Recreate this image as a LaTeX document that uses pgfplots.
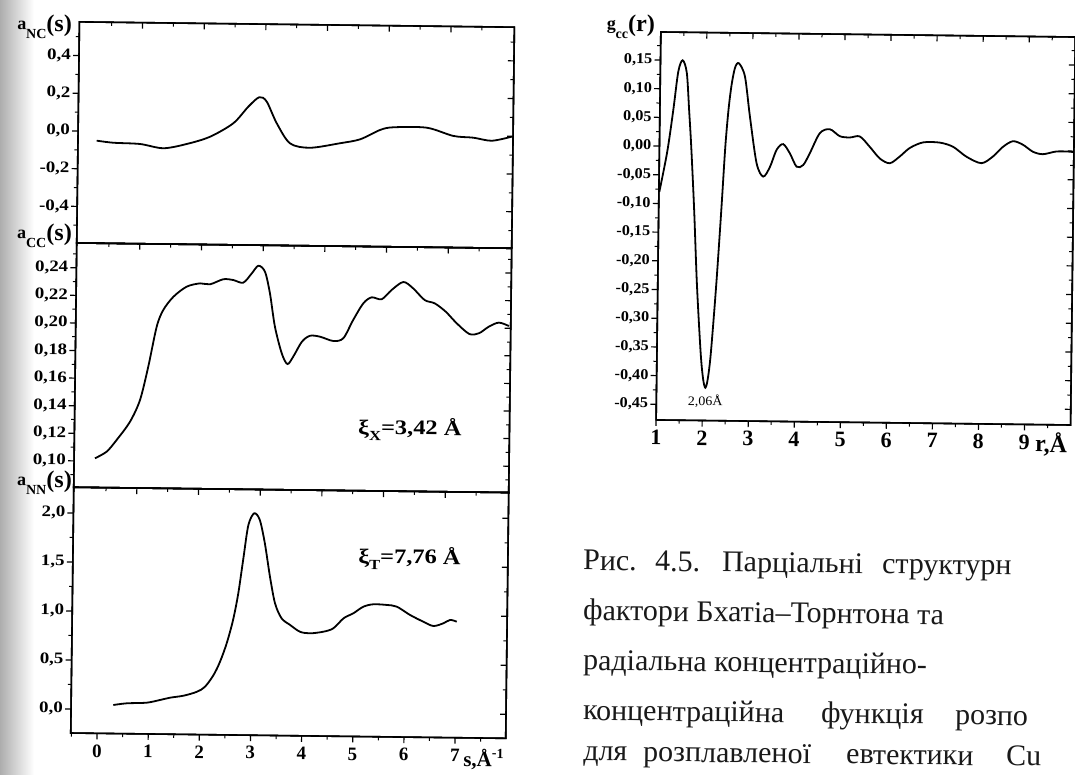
\documentclass[border=0pt]{standalone}
\usepackage{fontspec}
\usepackage{pgfplots}
\pgfplotsset{compat=1.18}
\setmainfont{Liberation Serif}
\newfontfamily\wide[FakeStretch=1.18]{Liberation Serif}
\newfontfamily\semiwide[FakeStretch=1.08]{Liberation Serif}

% axis label of the form  a_{NC}(s)
\newcommand\qlabel[3]{%
  \raisebox{2pt}{\bfseries\fontsize{18}{18}\selectfont #1}%
  \raisebox{-7pt}{\bfseries\fontsize{14}{14}\selectfont #2}%
  {\bfseries\fontsize{24}{24}\selectfont(#3)}}

\pgfplotsset{
  panel/.style={scale only axis, anchor=south west,
    axis line style={line width=1.6pt},
    major tick length=6pt, minor tick length=3.5pt,
    every major tick/.append style={line width=1.2pt, black},
    every minor tick/.append style={line width=1pt, black}},
  leftpanel/.style={panel, width=435pt, xmin=-0.514, xmax=7.99,
    yticklabel style={font=\wide\bfseries\fontsize{16}{16}\selectfont, inner sep=2pt},
    xticklabel style={font=\bfseries\fontsize{19}{19}\selectfont, inner sep=2pt, yshift=-3pt}},
  rightpanel/.style={panel, width=414.5pt, height=388pt, xmin=1, xmax=10,
    ymin=-0.4772, ymax=0.1988,
    xtick={1,2,3,4,5,6,7,8,9}, minor xtick={1.5,2.5,3.5,4.5,5.5,6.5,7.5,8.5,9.5},
    ytick={-0.45,-0.40,-0.35,-0.30,-0.25,-0.20,-0.15,-0.10,-0.05,0,0.05,0.10,0.15},
    minor ytick={-0.425,-0.375,-0.325,-0.275,-0.225,-0.175,-0.125,-0.075,-0.025,0.025,0.075,0.125,0.175},
    yticklabel style={font=\semiwide\bfseries\fontsize{15}{15}\selectfont, inner sep=2pt},
    xticklabel style={font=\bfseries\fontsize{22}{22}\selectfont, inner sep=2pt, yshift=-2pt}},
  topticks/.style={xtick={0.72,1.926,3.132,4.338,5.544,6.75},
    minor xtick={0.117,1.323,2.529,3.735,4.941,6.147,7.353}},
  front/.style={tick align=outside, xtick pos=left, ytick pos=left},
  back/.style={tick align=inside, xtick pos=right, ytick pos=right,
    xticklabels={}, yticklabels={}},
  curve/.style={black, line width=1.8pt, smooth, tension=0.5, mark=none},
}

\begin{document}
\begin{tikzpicture}[x=1pt,y=1pt]
\path[use as bounding box] (0,0) rectangle (1075,774);
\shade[left color=black!32, right color=white] (0,0) rectangle (34,774);

\begin{scope}[transform canvas={rotate around={-0.7:(537.5,387)}}]

% ---------- a_NC(s) ----------
\pgfplotsset{p1/.style={leftpanel, at={(75pt,525.4pt)}, height=221.1pt,
  ymin=-0.594, ymax=0.5788,
  ytick={-0.4,-0.2,0,0.2,0.4}, minor ytick={-0.5,-0.3,-0.1,0.1,0.3,0.5}}}
\begin{axis}[p1, front, xtick=\empty,
  yticklabels={{-0,4},{-0,2},{0,0},{0,2},{0,4}}]
\addplot[curve] coordinates {
(-0.149,-0.050) (0.177,-0.060) (0.699,-0.065) (1.155,-0.086) (1.612,-0.062)
(2.066,-0.022) (2.518,0.051) (2.808,0.140) (3.021,0.191) (3.166,0.168)
(3.367,0.054) (3.632,-0.052) (4.024,-0.074) (4.610,-0.048) (5.000,-0.026)
(5.389,0.025) (5.648,0.040) (6.301,0.040) (6.823,-0.002) (7.215,-0.010)
(7.575,-0.025) (7.965,-0.002)};
\end{axis}
\begin{axis}[p1, back, topticks]\end{axis}

% ---------- a_CC(s) ----------
\pgfplotsset{p2/.style={leftpanel, at={(75pt,281.1pt)}, height=244.3pt,
  ymin=0.0809, ymax=0.258,
  ytick={0.10,0.12,0.14,0.16,0.18,0.20,0.22,0.24},
  minor ytick={0.09,0.11,0.13,0.15,0.17,0.19,0.21,0.23,0.25}}}
\begin{axis}[p2, front, xtick=\empty,
  yticklabels={{0,10},{0,12},{0,14},{0,16},{0,18},{0,20},{0,22},{0,24}}]
\addplot[curve] coordinates {
(-0.106,0.1021) (0.121,0.1070) (0.314,0.1156) (0.570,0.1289) (0.760,0.1447)
(0.914,0.1690) (1.069,0.1980) (1.194,0.2102) (1.390,0.2199) (1.646,0.2273)
(1.907,0.2298) (2.101,0.2292) (2.360,0.2330) (2.556,0.2325) (2.751,0.2307)
(2.917,0.2376) (3.043,0.2431) (3.173,0.2388) (3.275,0.2232) (3.380,0.1991)
(3.520,0.1798) (3.633,0.1721) (3.745,0.1775) (3.911,0.1884) (4.069,0.1928)
(4.265,0.1922) (4.525,0.1892) (4.720,0.1913) (4.908,0.2046) (5.103,0.2168)
(5.265,0.2212) (5.461,0.2199) (5.653,0.2267) (5.880,0.2326) (6.072,0.2281)
(6.301,0.2197) (6.498,0.2174) (6.714,0.2115) (6.934,0.2031) (7.182,0.1955)
(7.370,0.1961) (7.563,0.2010) (7.758,0.2040) (7.954,0.2016)};
\end{axis}
\begin{axis}[p2, back, topticks]\end{axis}

% ---------- a_NN(s) ----------
\pgfplotsset{p3/.style={leftpanel, at={(75pt,35.3pt)}, height=245.8pt,
  ymin=-0.245, ymax=2.263,
  ytick={0,0.5,1,1.5,2}, minor ytick={0.25,0.75,1.25,1.75}}}
\begin{axis}[p3, front,
  xtick={0,1,2,3,4,5,6,7}, xticklabels={0,1,2,3,4,5,6,7},
  minor xtick={-0.5,0.5,1.5,2.5,3.5,4.5,5.5,6.5,7.5},
  yticklabels={{0,0},{0,5},{1,0},{1,5},{2,0}}]
\addplot[curve] coordinates {
(0.311,0.046) (0.572,0.065) (0.963,0.074) (1.222,0.103) (1.421,0.128)
(1.683,0.150) (1.944,0.192) (2.099,0.244) (2.264,0.365) (2.387,0.501)
(2.513,0.690) (2.632,0.929) (2.728,1.202) (2.823,1.576) (2.909,1.900)
(3.021,2.020) (3.131,1.952) (3.235,1.715) (3.343,1.375) (3.448,1.104)
(3.579,0.952) (3.747,0.885) (3.942,0.817) (4.138,0.802) (4.399,0.820)
(4.594,0.856) (4.793,0.960) (4.982,1.012) (5.175,1.080) (5.370,1.106)
(5.633,1.101) (5.829,1.085) (6.089,1.002) (6.349,0.935) (6.549,0.892)
(6.744,0.921) (6.874,0.956) (7.005,0.939)};
\end{axis}
\begin{axis}[p3, back, topticks]\end{axis}

% ---------- g_cc(r) ----------
\begin{axis}[rightpanel, at={(656.5pt,355.5pt)}, front,
  xticklabels={1,2,3,4,5,6,7,8,9},
  yticklabels={{-0,45},{-0,40},{-0,35},{-0,30},{-0,25},{-0,20},{-0,15},{-0,10},{-0,05},{0,00},{0,05},{0,10},{0,15}}]
\addplot[curve] coordinates {
(1.009,-0.080) (1.17,-0.010) (1.291,0.063) (1.389,0.130) (1.482,0.150)
(1.575,0.128) (1.635,0.063) (1.69,0.000) (1.77,-0.110) (1.85,-0.240)
(1.95,-0.360) (2.01,-0.405) (2.06,-0.420) (2.11,-0.405) (2.17,-0.360)
(2.27,-0.240) (2.36,-0.110) (2.43,0.000) (2.49,0.065) (2.55,0.108)
(2.62,0.138) (2.702,0.146) (2.838,0.123) (2.957,0.053) (3.114,-0.028)
(3.261,-0.051) (3.404,-0.034) (3.545,-0.004) (3.686,0.006) (3.834,-0.010)
(3.983,-0.033) (4.126,-0.030) (4.268,-0.009) (4.480,0.026) (4.695,0.033)
(4.914,0.021) (5.131,0.019) (5.348,0.021) (5.568,0.003) (5.788,-0.017)
(6.006,-0.025) (6.221,-0.013) (6.436,0.002) (6.723,0.012) (7.085,0.012)
(7.375,0.005) (7.668,-0.012) (7.995,-0.023) (8.245,-0.011) (8.459,0.006)
(8.675,0.016) (8.893,0.010) (9.111,-0.002) (9.329,-0.006) (9.619,-0.001)
(9.907,-0.001) (10.0,-0.002)};
\node[anchor=north, inner sep=0, font=\semiwide\fontsize{13}{13}\selectfont]
  at (axis cs:2.06,-0.432) {2,06Å};
\end{axis}
\begin{axis}[rightpanel, at={(656.5pt,355.5pt)}, back]\end{axis}

% ---------- axis titles and notes ----------
\node[anchor=base east, inner sep=0] at (67.7,736.3) {\qlabel{a}{NC}{s}};
\node[anchor=base east, inner sep=0] at (70.2,527.3) {\qlabel{a}{CC}{s}};
\node[anchor=base east, inner sep=0] at (73.2,280.3) {\qlabel{a}{NN}{s}};
\node[anchor=base east, inner sep=0] at (650.7,743.4) {\qlabel{g}{cc}{r}};

\node[anchor=base west, inner sep=0, font=\wide\bfseries\fontsize{20.7}{20.7}\selectfont]
  at (358.6,337.8) {ξ\raisebox{-6pt}{\fontsize{14}{14}\selectfont X}=3,42 Å};
\node[anchor=base west, inner sep=0, font=\wide\bfseries\fontsize{20.7}{20.7}\selectfont]
  at (360.2,208.8) {ξ\raisebox{-6pt}{\fontsize{14}{14}\selectfont T}=7,76 Å};

\node[anchor=base west, inner sep=0, font=\bfseries\fontsize{21}{21}\selectfont]
  at (467.7,6.5) {s,Å\raisebox{9pt}{\fontsize{14}{14}\selectfont -1}};
\node[anchor=base west, inner sep=0, font=\bfseries\fontsize{24}{24}\selectfont]
  at (1035.8,328.1) {r,Å};

% ---------- caption (justified lines set word by word) ----------
\begin{scope}[every node/.style={anchor=base west, inner sep=0,
    font=\fontsize{30}{30}\selectfont, text=black!90}]
\node at (585.1,204.6) {Рис.};
\node at (657.1,204.6) {4.5.};
\node at (724.1,204.6) {Парціальні};
\node at (884.1,204.6) {структурн};
\node at (585.8,154.6) {фактори Бхатіа–Торнтона та};
\node at (586.4,104.6) {радіальна концентраційно-};
\node at (586.9,54.6) {концентраційна};
\node at (824.9,54.6) {функція};
\node at (958.9,54.6) {розпо};
\node at (587.6,14.0) {для};
\node at (647.6,14.0) {розплавленої};
\node at (850.6,14.0) {евтектики};
\node at (1010.6,14.0) {Cu};
\end{scope}

\end{scope}
\end{tikzpicture}
\end{document}
